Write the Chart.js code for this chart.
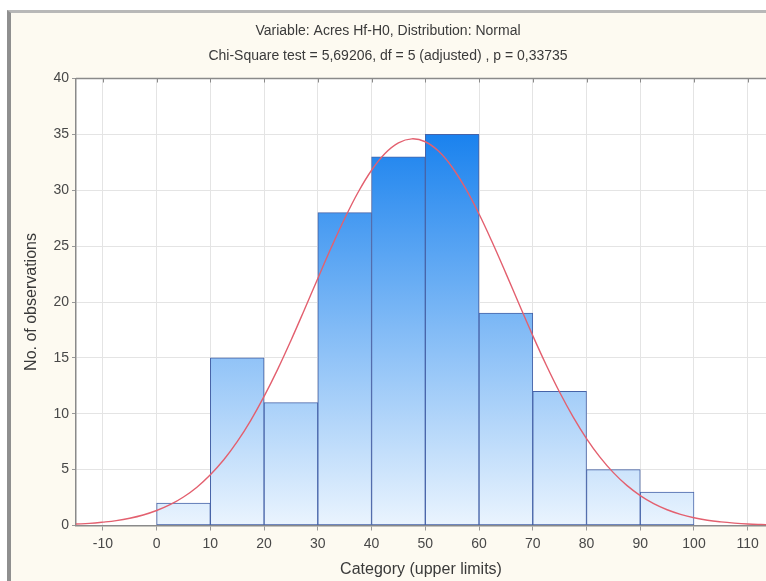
<!DOCTYPE html>
<html>
<head>
<meta charset="utf-8">
<script src="https://cdn.jsdelivr.net/npm/chart.js@4"></script>
<style>
  html, body { margin: 0; padding: 0; background: #fff; overflow: hidden; }
  #frame {
    position: absolute; left: 7px; top: 10px; width: 800px; height: 600px;
    border-left: 4px solid #8f8f8f; border-top: 3px solid #b8b8b8;
    background: #fdfaf1;
  }
  #hist { position: absolute; left: 0; top: 0; }
</style>
</head>
<body>
<div id="frame"></div>
<canvas id="hist" width="766" height="581"></canvas>
<script>
// histogram bins (lower/upper limits) and observed counts
const binLower = [0, 10, 20, 30, 40, 50, 60, 70, 80, 90];
const binUpper = [10, 20, 30, 40, 50, 60, 70, 80, 90, 100];
const counts = [2, 15, 11, 28, 33, 35, 19, 12, 5, 3];

// fitted normal curve
const curveX = [-15, -12.5, -10, -7.5, -5, -2.5, 0, 2.5, 5, 7.5, 10, 12.5, 15, 17.5, 20, 22.5, 25, 27.5, 30, 32.5,
  35, 37.5, 40, 42.5, 45, 47.5, 50, 52.5, 55, 57.5, 60, 62.5, 65, 67.5, 70, 72.5, 75, 77.5, 80, 82.5,
  85, 87.5, 90, 92.5, 95, 97.5, 100, 102.5, 105, 107.5, 110, 112.5, 115];
const curveY = [0.13, 0.19, 0.3, 0.44, 0.65, 0.94, 1.34, 1.86, 2.55, 3.43, 4.54, 5.88, 7.5, 9.39, 11.55, 13.95, 16.56, 19.31, 22.11, 24.87,
  27.47, 29.82, 31.79, 33.29, 34.24, 34.6, 34.34, 33.48, 32.06, 30.16, 27.87, 25.3, 22.56, 19.75, 16.99, 14.36, 11.92, 9.72, 7.78, 6.12,
  4.73, 3.59, 2.68, 1.96, 1.41, 1.0, 0.69, 0.47, 0.32, 0.21, 0.13, 0.085, 0.053];

const xTickValues = [-10, 0, 10, 20, 30, 40, 50, 60, 70, 80, 90, 100, 110];
const yTickValues = [0, 5, 10, 15, 20, 25, 30, 35, 40];

const titleText = "Variable: Acres Hf-H0, Distribution: Normal";
const subtitleText = "Chi-Square test = 5,69206, df = 5 (adjusted) , p = 0,33735";

const FONT = "'Liberation Sans', Arial, sans-serif";

const barData = counts.map((c, i) => ({ x: (binLower[i] + binUpper[i]) / 2, y: c }));
const curveData = curveX.map((x, i) => ({ x: x, y: curveY[i] }));

function barGradient(context) {
  const chart = context.chart;
  const area = chart.chartArea;
  if (!area) return "#7fb6f4";
  const y = chart.scales.y;
  const g = chart.ctx.createLinearGradient(0, y.getPixelForValue(0), 0, y.getPixelForValue(35));
  g.addColorStop(0, "#eaf4fe");
  g.addColorStop(1, "#1a82ee");
  return g;
}

const plotFrame = {
  id: "plotFrame",
  beforeDraw(chart) {
    const { ctx, chartArea: a } = chart;
    ctx.save();
    ctx.fillStyle = "#ffffff";
    ctx.fillRect(a.left, a.top, a.right - a.left, a.bottom - a.top);
    ctx.restore();
  },
  afterDraw(chart) {
    const { ctx, chartArea: a } = chart;
    ctx.save();
    ctx.strokeStyle = "#8a8a8a";
    ctx.lineWidth = 1.5;
    ctx.beginPath();
    ctx.moveTo(a.left, a.top);
    ctx.lineTo(a.right + 2, a.top);
    ctx.stroke();
    // small tick marks on the top border
    const xs = chart.scales.x;
    ctx.lineWidth = 1;
    xTickValues.forEach(v => {
      const px = Math.round(xs.getPixelForValue(v)) + 0.5;
      ctx.beginPath();
      ctx.moveTo(px, a.top);
      ctx.lineTo(px, a.top + 4);
      ctx.stroke();
    });
    ctx.restore();
  }
};

new Chart(document.getElementById("hist"), {
  type: "bar",
  data: {
    datasets: [
      {
        type: "line",
        data: curveData,
        borderColor: "#e3606f",
        borderWidth: 1.4,
        pointRadius: 0,
        tension: 0.4,
        fill: false,
        order: 0
      },
      {
        type: "bar",
        data: barData,
        backgroundColor: barGradient,
        borderColor: "#4663a8",
        borderWidth: 1,
        borderSkipped: false,
        barPercentage: 1,
        categoryPercentage: 1,
        order: 1
      }
    ]
  },
  options: {
    responsive: false,
    animation: false,
    devicePixelRatio: 1,
    layout: { padding: { left: 10, right: 0, top: 8, bottom: 0 } },
    plugins: {
      legend: { display: false },
      tooltip: { enabled: false },
      title: {
        display: true,
        text: titleText,
        color: "#3a3a3a",
        font: { family: FONT, size: 14, weight: "normal" },
        padding: { top: 15.1, bottom: 0 }
      },
      subtitle: {
        display: true,
        text: subtitleText,
        color: "#3a3a3a",
        font: { family: FONT, size: 14, weight: "normal" },
        padding: { top: 8.2, bottom: 13.6 }
      }
    },
    scales: {
      x: {
        type: "linear",
        min: -15,
        max: 113.4,
        offset: false,
        afterBuildTicks: axis => { axis.ticks = xTickValues.map(v => ({ value: v })); },
        afterFit: axis => { axis.height = 55.5; },
        ticks: {
          color: "#484848",
          font: { family: FONT, size: 14 },
          padding: 5.5,
          maxRotation: 0,
          autoSkip: false
        },
        grid: { color: "#e4e4e4", offset: false, tickLength: 5, tickColor: "#999" },
        border: { color: "#8a8a8a", width: 1.5 },
        title: {
          display: true,
          text: "Category (upper limits)",
          color: "#3a3a3a",
          font: { family: FONT, size: 16 },
          padding: { top: 0, bottom: 1.4 }
        }
      },
      y: {
        min: 0,
        max: 40,
        afterBuildTicks: axis => { axis.ticks = yTickValues.map(v => ({ value: v })); },
        afterFit: axis => { axis.width = 66; },
        ticks: {
          color: "#484848",
          font: { family: FONT, size: 14 },
          padding: 3
        },
        grid: { color: "#e4e4e4", tickLength: 4, tickColor: "#999" },
        border: { color: "#8a8a8a", width: 1.5 },
        title: {
          display: true,
          text: "No. of observations",
          color: "#3a3a3a",
          font: { family: FONT, size: 16 },
          padding: { top: 12, bottom: 0 }
        }
      }
    }
  },
  plugins: [plotFrame]
});
</script>
</body>
</html>
